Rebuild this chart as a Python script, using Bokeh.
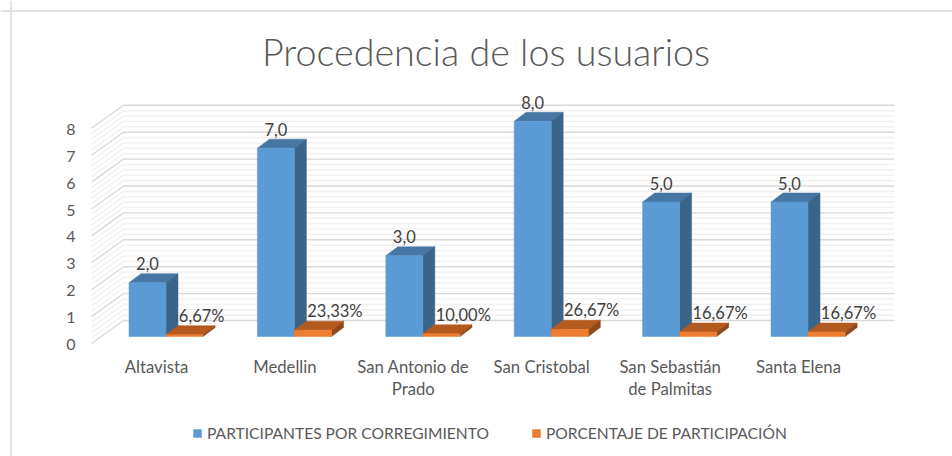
from bokeh.plotting import figure
from bokeh.models import Legend, LegendItem, Span, FixedTicker
from bokeh.core.properties import value
from bokeh.embed import file_html
from bokeh.resources import INLINE

categories = ["Altavista", "Medellin", "San Antonio de\nPrado", "San Cristobal",
              "San Sebastián\nde Palmitas", "Santa Elena"]
participants = [2, 7, 3, 8, 5, 5]
percentages = [0.0667, 0.2333, 0.10, 0.2667, 0.1667, 0.1667]
participant_labels = ["2,0", "7,0", "3,0", "8,0", "5,0", "5,0"]
percentage_labels = ["6,67%", "23,33%", "10,00%", "26,67%", "16,67%", "16,67%"]
y_ticks = [0, 1, 2, 3, 4, 5, 6, 7, 8]
series_names = ["PARTICIPANTES POR CORREGIMIENTO", "PORCENTAJE DE PARTICIPACIÓN"]
title_text = "Procedencia de los usuarios"

W, H = 952, 456
# pixel <-> data helpers (the figure fills the window)
X0, XS = 156.0, 128.4
Y0, YS = 344.0, 26.9
fx = lambda px: (px - X0) / XS
fy = lambda py: (Y0 - py) / YS
dxpx = lambda d: d / XS
dypx = lambda d: d / YS

p = figure(width=W, height=H, output_backend="svg", toolbar_location=None,
           x_range=(fx(0), fx(W)), y_range=(fy(H), fy(0)),
           min_border=0, min_border_left=0, min_border_right=0,
           min_border_top=0, min_border_bottom=0)
p.outline_line_color = None
p.background_fill_color = "white"
p.border_fill_color = "white"
p.xgrid.visible = False
p.ygrid.visible = False

GREY = "#595959"
FONT = "Lato"

# outer chart border
p.add_layout(Span(location=fx(10.5), dimension="height", line_color="#d9d9d9", line_width=1.5))
p.add_layout(Span(location=fy(10.5), dimension="width", line_color="#d9d9d9", line_width=1.5))

# walls: left wall + back wall, 4 minor lines per unit
wall_front, wall_dy = dypx(1), dypx(24)
x_left, x_back, x_right = fx(91), fx(123), fx(894)
minor = [t + k / 5 for t in y_ticks[:-1] for k in range(1, 5)]
for vals, color, lw in ((minor, "#f2f2f2", 1.6), (y_ticks, "#d9d9d9", 1.4)):
    for v in vals:
        p.line([x_left, x_back, x_right], [v + wall_front, v + wall_dy, v + wall_dy],
               line_color=color, line_width=lw)

# 3D bars
dep_x, dep_y = dxpx(12), dypx(9)
base = dypx(8)
blue_w, or_w = dxpx(37), dxpx(37.3)
blue_c = [i + fx(147) for i in range(len(categories))]
or_c = [i + fx(184) for i in range(len(categories))]


def bars(centers, vals, width, front, topc, side):
    l = [c - width / 2 for c in centers]
    r = [c + width / 2 for c in centers]
    t = [base + v for v in vals]
    p.patches([[a, a + dep_x, b + dep_x, b] for a, b in zip(l, r)],
              [[y, y + dep_y, y + dep_y, y] for y in t], fill_color=topc, line_color=topc, line_width=0.5)
    p.patches([[b, b + dep_x, b + dep_x, b] for b in r],
              [[base, base + dep_y, y + dep_y, y] for y in t], fill_color=side, line_color=side, line_width=0.5)
    return p.vbar(x=centers, width=width, bottom=base, top=t, fill_color=front, line_color=front, line_width=0.5)


r_blue = bars(blue_c, participants, blue_w, "#5B9BD5", "#4676A3", "#3A658B")
r_or = bars(or_c, percentages, or_w, "#ED7D31", "#B55A1F", "#8F4A1C")

# data labels
p.text(blue_c, [base + v + dypx(19) for v in participants], text=participant_labels,
       text_font=value(FONT), text_font_size="16.5px", text_color="#404040",
       text_align="center", text_baseline="middle")
p.text([c - or_w / 2 + dxpx(13) for c in or_c], [base + v + dypx(19) for v in percentages],
       text=percentage_labels, text_font=value(FONT), text_font_size="16.5px", text_color="#404040",
       text_align="left", text_baseline="middle")

# title
p.text([fx(485.5)], [fy(51)], text=[title_text], text_font=value("Lato Light"), text_font_size="37.7px",
       text_color=GREY, text_align="center", text_baseline="middle")

# axes inside the frame
ya = p.yaxis[0]
ya.fixed_location = fx(86)
ya.ticker = FixedTicker(ticks=y_ticks)
ya.axis_line_color = None
ya.major_tick_line_color = None
ya.minor_tick_line_color = None
ya.major_label_text_font = FONT
ya.major_label_text_font_size = "16px"
ya.major_label_text_color = GREY
ya.major_label_standoff = 5

xa = p.xaxis[0]
xa.fixed_location = fy(350)
xa.ticker = FixedTicker(ticks=list(range(len(categories))))
xa.major_label_overrides = {i: c for i, c in enumerate(categories)}
xa.axis_line_color = None
xa.major_tick_line_color = None
xa.minor_tick_line_color = None
xa.major_label_text_font = FONT
xa.major_label_text_font_size = "16.7px"
xa.major_label_text_color = GREY
xa.major_label_standoff = 0
xa.major_label_text_line_height = 1.1

legend = Legend(items=[LegendItem(label=series_names[0], renderers=[r_blue]),
                       LegendItem(label=series_names[1], renderers=[r_or])],
                orientation="horizontal", location=(192, 14),
                border_line_color=None, background_fill_color=None,
                padding=0, margin=0, spacing=42, label_standoff=5,
                glyph_width=10, glyph_height=10,
                label_text_font=FONT, label_text_font_size="15.6px", label_text_color=GREY)
p.add_layout(legend, "center")

open("out.html", "w").write(file_html(p, INLINE))
